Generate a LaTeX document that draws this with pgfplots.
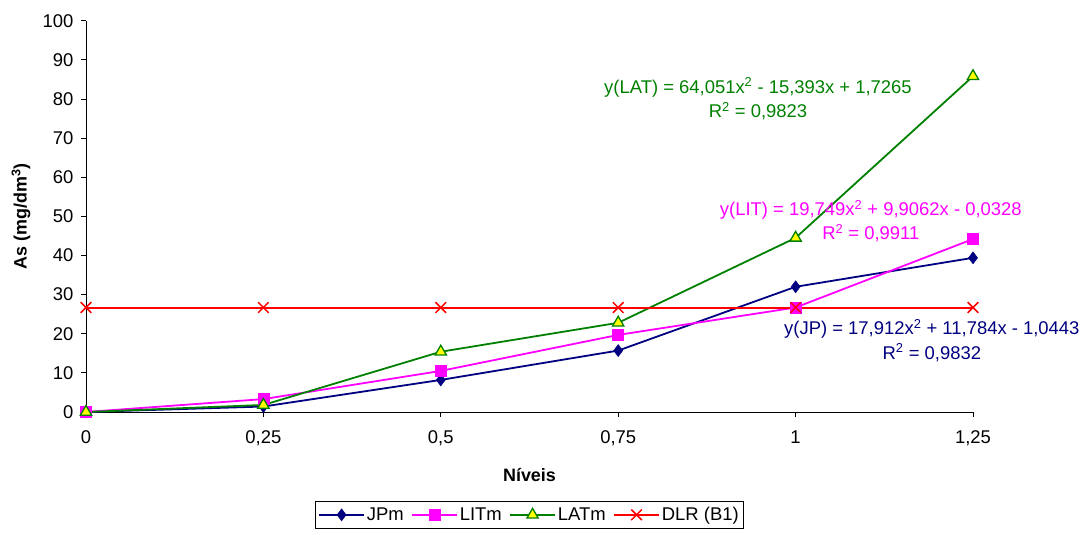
\documentclass[border=0pt]{standalone}
\usepackage{pgfplots}
\pgfplotsset{compat=1.18}
\usepackage{fontspec}
\setmainfont{Liberation Sans}
\definecolor{jpc}{RGB}{0,0,128}
\definecolor{litc}{RGB}{255,0,255}
\definecolor{latc}{RGB}{0,128,0}
\definecolor{dlrc}{RGB}{255,0,0}
\definecolor{yel}{RGB}{255,255,0}
\begin{document}
\begin{tikzpicture}
\useasboundingbox (-86bp,-123bp) rectangle (998bp,412bp);
\begin{axis}[
  scale only axis,
  width=887bp, height=391.3bp,
  xmin=0, xmax=1.25, ymin=0, ymax=100,
  axis x line=bottom, axis y line=left,
  axis line style={-, black, line width=0.9bp},
  clip=false,
  xtick={0,0.25,0.5,0.75,1,1.25},
  xticklabels={0,{0,25},{0,5},{0,75},1,{1,25}},
  ytick={0,10,...,100},
  tick align=outside,
  major tick length=5bp,
  tick style={black, line width=0.9bp},
  /pgf/number format/assume math mode=true,
  every tick label/.append style={font=\fontsize{18.5}{22}\selectfont},
  xticklabel style={yshift=-10bp},
  yticklabel style={xshift=-4bp},
  xlabel={\textbf{Níveis}},
  ylabel={\textbf{As (mg/dm\textsuperscript{3})}},
  xlabel style={at={(axis description cs:0.5,-0.161)}, anchor=center, font=\fontsize{18}{22}\selectfont},
  ylabel style={at={(axis description cs:-0.0733,0.5)}, anchor=center, font=\fontsize{18}{22}\selectfont},
  legend columns=4,
  legend style={at={(0.5,-0.2275)}, anchor=north, draw=black, line width=0.8bp,
    font=\fontsize{18.5}{22}\selectfont, inner xsep=3bp, inner ysep=4bp,
    /tikz/every even column/.append style={column sep=5.5bp}},
  legend image code/.code={\draw[mark repeat=2,mark phase=2] plot coordinates {(0cm,0cm) (0.79cm,0cm) (1.58cm,0cm)};},
]
\addplot[color=jpc, line width=1.8bp, mark=diamond*, mark size=6bp, mark options={fill=jpc, draw=jpc, line width=0.5bp}]
  coordinates {(0,0) (0.25,1.4) (0.5,8.2) (0.75,15.7) (1,32.0) (1.25,39.4)};
\addlegendentry{JPm}
\addplot[color=litc, line width=1.8bp, mark=square*, mark size=5.5bp, mark options={fill=litc, draw=litc, line width=0.5bp}]
  coordinates {(0,0) (0.25,3.3) (0.5,10.5) (0.75,19.7) (1,26.7) (1.25,44.2)};
\addlegendentry{LITm}
\addplot[color=latc, line width=1.8bp, mark=triangle*, mark size=6.5bp, mark options={fill=yel, draw=latc, line width=1.3bp}]
  coordinates {(0,0) (0.25,1.8) (0.5,15.4) (0.75,22.8) (1,44.5) (1.25,85.8)};
\addlegendentry{LATm}
\addplot[draw=dlrc, color=dlrc, line width=2bp, mark=x, mark size=7.5bp, mark options={draw=dlrc, line width=1.5bp}]
  coordinates {(0,26.7) (0.25,26.7) (0.5,26.7) (0.75,26.7) (1,26.7) (1.25,26.7)};
\addlegendentry{DLR (B1)}
\node[latc, align=center, font=\fontsize{18.5}{24.5}\selectfont] at (axis cs:0.947,80.0)
  {y(LAT) = 64,051x\textsuperscript{2} - 15,393x + 1,7265\\R\textsuperscript{2} = 0,9823};
\node[litc, align=center, font=\fontsize{18.5}{24.5}\selectfont] at (axis cs:1.106,48.8)
  {y(LIT) = 19,749x\textsuperscript{2} + 9,9062x - 0,0328\\R\textsuperscript{2} = 0,9911};
\node[jpc, align=center, font=\fontsize{18.5}{24.5}\selectfont] at (axis cs:1.192,18.3)
  {y(JP) = 17,912x\textsuperscript{2} + 11,784x - 1,0443\\R\textsuperscript{2} = 0,9832};
\end{axis}
\end{tikzpicture}
\end{document}
